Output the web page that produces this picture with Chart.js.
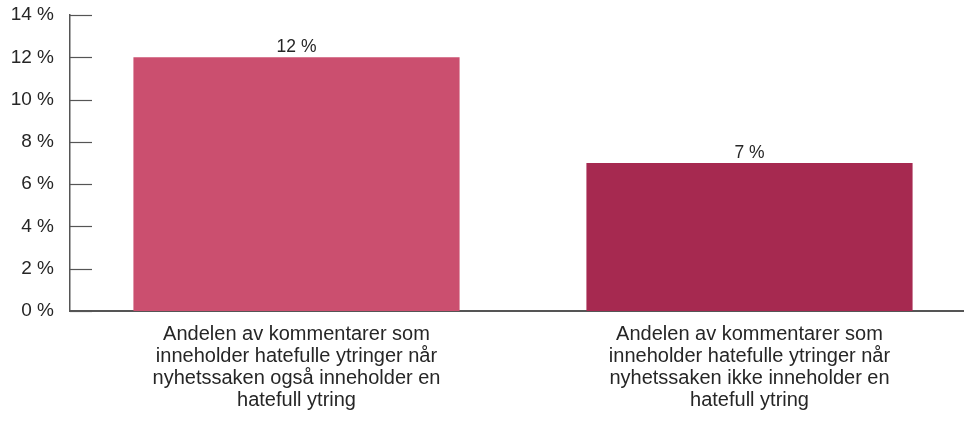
<!DOCTYPE html>
<html>
<head>
<meta charset="utf-8">
<script src="https://cdn.jsdelivr.net/npm/chart.js@4"></script>
<style>
  html, body { margin: 0; padding: 0; background: #fff; overflow: hidden; }
  #boks { width: 976px; height: 421px; }
</style>
</head>
<body>
<div id="boks"><canvas id="stolper"></canvas></div>
<script>
const kategorier = [
    ['Andelen av kommentarer som', 'inneholder hatefulle ytringer når', 'nyhetssaken også inneholder en', 'hatefull ytring'],
    ['Andelen av kommentarer som', 'inneholder hatefulle ytringer når', 'nyhetssaken ikke inneholder en', 'hatefull ytring']
];
const andeler = [12, 7];
const farger = ['#cb4f6f', '#a62950'];
const yMaks = 14;
const ySteg = 2;

const tekstFarge = '#262626';
const aksefarge = '#555555';
const skrift = '"Liberation Sans", Arial, sans-serif';

// tickmerker som peker inn i plottet
const innoverTicks = {
    id: 'innoverTicks',
    afterDraw(chart) {
        const y = chart.scales.y;
        const c = chart.ctx;
        c.save();
        c.strokeStyle = aksefarge;
        c.lineWidth = 1.2;
        y.ticks.forEach(t => {
            const py = Math.round(y.getPixelForValue(t.value)) + 0.5;
            c.beginPath();
            c.moveTo(y.right, py);
            c.lineTo(y.right + 22, py);
            c.stroke();
        });
        c.restore();
    }
};

// verdier over stolpene
const verdiEtiketter = {
    id: 'verdiEtiketter',
    afterDatasetsDraw(chart) {
        const c = chart.ctx;
        const meta = chart.getDatasetMeta(0);
        c.save();
        c.fillStyle = tekstFarge;
        c.font = '17.5px ' + skrift;
        c.textAlign = 'center';
        c.textBaseline = 'alphabetic';
        meta.data.forEach((bar, i) => {
            c.fillText(andeler[i] + ' %', bar.x, bar.y - 5);
        });
        c.restore();
    }
};

new Chart(document.getElementById('stolper'), {
    type: 'bar',
    data: {
        labels: kategorier,
        datasets: [{
            data: andeler,
            backgroundColor: farger,
            borderWidth: 0,
            barPercentage: 0.72,
            categoryPercentage: 1
        }]
    },
    options: {
        responsive: true,
        maintainAspectRatio: false,
        animation: false,
        layout: { padding: { top: 15, right: 0, left: 0, bottom: 0 } },
        plugins: {
            legend: { display: false },
            tooltip: { enabled: false }
        },
        scales: {
            x: {
                grid: { display: false },
                border: { display: true, color: aksefarge, width: 2 },
                ticks: {
                    color: tekstFarge,
                    font: { family: skrift, size: 20, lineHeight: 1.1 },
                    maxRotation: 0,
                    autoSkip: false,
                    padding: 4
                },
                afterFit(scale) { scale.height = 110; }
            },
            y: {
                min: 0,
                max: yMaks,
                grid: { display: false },
                border: { display: true, color: aksefarge, width: 1.5 },
                ticks: {
                    stepSize: ySteg,
                    color: tekstFarge,
                    font: { family: skrift, size: 19, lineHeight: 0.5 },
                    padding: 8,
                    callback: v => v + ' %'
                },
                afterFit(scale) {
                    scale.width = 70;
                    scale.paddingTop = 0;
                    scale.paddingBottom = 0;
                }
            }
        }
    },
    plugins: [innoverTicks, verdiEtiketter]
});
</script>
</body>
</html>
